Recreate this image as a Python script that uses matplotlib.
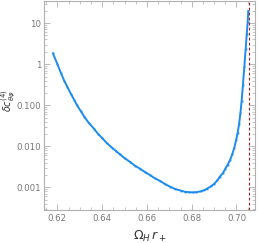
import numpy as np
import matplotlib
matplotlib.use("Agg")
from matplotlib import pyplot as plt
from matplotlib.ticker import FixedLocator, LogLocator, NullFormatter

# curve: Omega_H r_+ vs delta c
omega = [0.6180, 0.6200, 0.6215, 0.6230, 0.6245, 0.6260, 0.6275, 0.6288, 0.6305,
         0.6320, 0.6340, 0.6363, 0.6380, 0.6400, 0.6420, 0.6445, 0.6460, 0.6480,
         0.6500, 0.6524, 0.6545, 0.6570, 0.6590, 0.6613, 0.6635, 0.6660, 0.6680,
         0.6703, 0.6725, 0.6750, 0.6770, 0.6788, 0.6805, 0.6820, 0.6840, 0.6855,
         0.6867, 0.6885, 0.6900, 0.6915, 0.6926, 0.6940, 0.6950, 0.6961, 0.6971,
         0.6981, 0.6990, 0.6998, 0.7005, 0.7012, 0.7018, 0.7023, 0.7029, 0.7035,
         0.7041, 0.7046, 0.7050, 0.7053]
log_dc = [0.263, 0.000, -0.205, -0.399, -0.560, -0.720, -0.870, -1.005, -1.150,
          -1.280, -1.430, -1.570, -1.690, -1.800, -1.920, -2.040, -2.110, -2.200,
          -2.290, -2.379, -2.470, -2.550, -2.625, -2.700, -2.780, -2.850, -2.920,
          -2.985, -3.040, -3.080, -3.110, -3.120, -3.125, -3.120, -3.100, -3.070,
          -3.040, -2.980, -2.920, -2.830, -2.740, -2.650, -2.550, -2.450, -2.340,
          -2.200, -2.040, -1.860, -1.680, -1.450, -1.180, -0.900, -0.500, -0.076,
          0.360, 0.733, 1.020, 1.298]
dc = 10 ** np.array(log_dc)
omega_limit = 0.7058

xticks = [0.62, 0.64, 0.66, 0.68, 0.70]
xtick_labels = ["0.62", "0.64", "0.66", "0.68", "0.70"]
yticks = [0.001, 0.01, 0.1, 1, 10]
ytick_labels = ["0.001", "0.010", "0.100", "1", "10"]

fig = plt.figure(figsize=(2.58, 2.43), dpi=100)
ax = fig.add_axes([0.1705, 0.136, 0.818, 0.86])

ax.plot(omega, dc, color="#1e8cec", lw=1.4, marker="s", ms=1.3, mew=0)
ax.axvline(omega_limit, color="#a01818", lw=0.8, ls=(0, (2.5, 2)))

ax.set_yscale("log")
ax.set_xlim(0.614, 0.7083)
ax.set_ylim(2.8e-4, 34.7)

ax.set_xticks(xticks)
ax.set_xticklabels(xtick_labels)
ax.xaxis.set_minor_locator(FixedLocator(np.arange(0.615, 0.7085, 0.005)))
ax.set_yticks(yticks)
ax.set_yticklabels(ytick_labels)
ax.yaxis.set_minor_locator(LogLocator(base=10, subs=np.arange(2, 10)))
ax.yaxis.set_minor_formatter(NullFormatter())

for s in ax.spines.values():
    s.set_color("#b0b0b0")
    s.set_linewidth(0.8)
ax.tick_params(which="both", direction="in", top=True, right=True,
               colors="#b0b0b0", labelcolor="#777777", labelsize=6.2)
ax.tick_params(axis="y", pad=2)
ax.tick_params(axis="x", pad=3)
ax.tick_params(which="major", length=4, width=0.6)
ax.tick_params(which="minor", length=2, width=0.5)

ax.set_xlabel(r"$\Omega_H\, r_+$", fontsize=9, color="#333333", labelpad=4)
# y label placed by hand so it sits between the edge and the tick labels
fig.text(0.036, 0.585, r"$\delta c^{(4)}_{\theta\varphi}$", fontsize=7,
         color="#333333", rotation=90, ha="center", va="center")

fig.savefig("out.png", dpi=100)
